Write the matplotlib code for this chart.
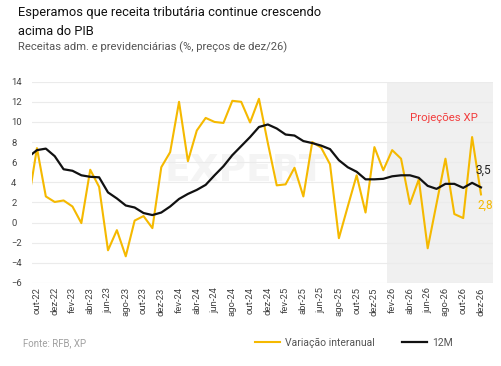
import numpy as np
import matplotlib.pyplot as plt
from matplotlib.lines import Line2D

plt.rcParams['font.family'] = ['Roboto', 'DejaVu Sans']

# meses: set-22 (fica cortado à esquerda) até dez-26
meses_abrev = ['jan', 'fev', 'mar', 'abr', 'mai', 'jun', 'jul', 'ago', 'set', 'out', 'nov', 'dez']
meses = ['set-22', 'out-22', 'nov-22', 'dez-22'] + \
    [f'{m}-{a}' for a in ['23', '24', '25', '26'] for m in meses_abrev]

# Variação interanual (%)
interanual = [1.9, 7.4, 2.6, 2.05,
              2.2, 1.6, -0.05, 5.25, 3.55, -2.75, -0.75, -3.35, 0.2, 0.65, -0.55, 5.5,
              7.0, 12.0, 6.1, 9.15, 10.4, 10.0, 9.9, 12.1, 12.0, 9.95, 12.3, 7.9,
              3.7, 3.8, 5.45, 2.6, 8.0, 7.45, 5.8, -1.55, 1.6, 4.7, 1.0, 7.5,
              5.2, 7.2, 6.35, 1.85, 4.3, -2.55, 1.9, 6.35, 0.85, 0.45, 8.5, 2.8]

# Acumulado 12 meses (%)
acum_12m = [6.5, 7.2, 7.35, 6.6,
            5.3, 5.15, 4.7, 4.55, 4.5, 3.0, 2.4, 1.7, 1.5, 0.95, 0.75, 1.0,
            1.6, 2.35, 2.85, 3.25, 3.75, 4.7, 5.6, 6.7, 7.6, 8.5, 9.5, 9.75,
            9.35, 8.75, 8.65, 8.1, 7.9, 7.65, 7.3, 6.2, 5.5, 5.05, 4.3, 4.3,
            4.35, 4.6, 4.7, 4.7, 4.45, 3.65, 3.35, 3.85, 3.85, 3.45, 3.95, 3.5]

inicio_projecao = 'jan-26'

amarelo = '#F5B900'
preto = '#111111'

x = np.arange(len(meses))

fig = plt.figure(figsize=(5.02, 3.66), dpi=100)
ax = fig.add_axes([0.0637, 0.2268, 0.9183, 0.55])

# área de projeção
i_proj = meses.index(inicio_projecao)
ax.axvspan(i_proj + 0.45, len(meses) + 1, color='#f0f0f0', zorder=0, lw=0)

# marca d'água
ax.text(24.4, 5.1, 'EXPERT', fontsize=27, fontweight='bold', color='#f4f4f4',
        ha='center', va='center', zorder=0.5, family='DejaVu Sans')

ax.plot(x, interanual, color=amarelo, linewidth=1.5, zorder=2)
ax.plot(x, acum_12m, color=preto, linewidth=1.6, zorder=3)

ax.set_xlim(0.44, 52.35)
ax.set_ylim(-6, 14)
ax.set_yticks(np.arange(-6, 15, 2))
ax.set_xticks(x[1::2])
ax.set_xticklabels(meses[1::2], rotation=90, fontsize=6.8, color='#444444')
ax.tick_params(axis='y', labelsize=6.8, labelcolor='#444444', length=0, pad=15)
ax.tick_params(axis='x', length=0, pad=3)
for lbl in ax.get_yticklabels():
    lbl.set_horizontalalignment('left')

ax.grid(axis='y', color='#ebebeb', linewidth=0.8)
ax.set_axisbelow(True)
for s in ax.spines.values():
    s.set_visible(False)

# rótulos finais
ax.annotate('3,5', (x[-1], acum_12m[-1]), xytext=(1.5, 12), textcoords='offset points',
            ha='center', va='center', fontsize=8.5, color='#222222')
ax.annotate('2,8', (x[-1], interanual[-1]), xytext=(3, -8), textcoords='offset points',
            ha='center', va='center', fontsize=8.5, color=amarelo)
ax.text(46.8, 10.4, 'Projeções XP', fontsize=8.2, color='#f23c3c', ha='center', va='center')

# títulos
fig.text(0.036, 0.94, 'Esperamos que receita tributária continue crescendo\nacima do PIB',
         fontsize=9.3, color='#111111', ha='left', va='center', linespacing=1.6)
fig.text(0.036, 0.872, 'Receitas adm. e previdenciárias (%, preços de dez/26)',
         fontsize=8.1, color='#555555', ha='left', va='center')

fig.text(0.046, 0.063, 'Fonte: RFB, XP', fontsize=7, color='#a0a0a0', ha='left', va='center')

handles = [Line2D([], [], color=amarelo, linewidth=1.5),
           Line2D([], [], color=preto, linewidth=1.6)]
fig.legend(handles, ['Variação interanual', '12M'], loc='center', bbox_to_anchor=(0.705, 0.063),
           ncol=2, frameon=False, fontsize=7.5, handlelength=2.4, handletextpad=0.5,
           columnspacing=2.6, labelcolor='#555555')

fig.savefig('out.png', dpi=100)
